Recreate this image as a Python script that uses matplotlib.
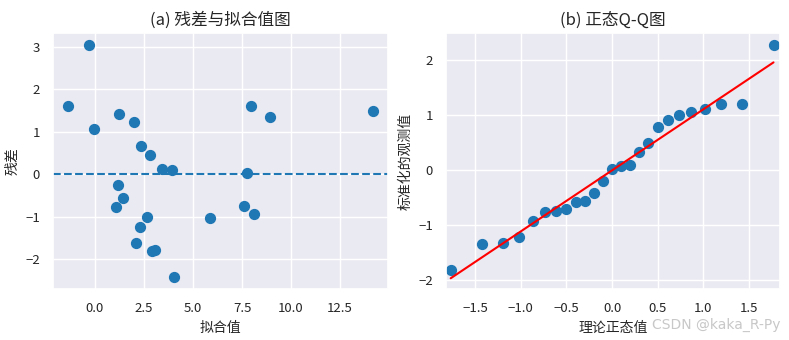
import matplotlib
matplotlib.use("Agg")
import matplotlib.pyplot as plt
import numpy as np
import seaborn as sns
from statistics import NormalDist

sns.set_theme(style="darkgrid")
plt.rcParams['font.family'] = ['Noto Sans CJK SC', 'DejaVu Sans']
plt.rcParams['axes.unicode_minus'] = True

# fitted values and residuals of the regression model
fitted = [-1.36, -0.31, -0.03, 1.24, 2.01, 2.36, 2.79, 3.42, 3.93, 7.94,
          8.91, 14.17, 7.76, 1.19, 1.44, 1.09, 2.67, 2.31, 2.11, 2.91,
          3.04, 4.03, 5.88, 7.62, 8.13]
residuals = [1.61, 3.05, 1.06, 1.41, 1.22, 0.66, 0.45, 0.13, 0.11, 1.61,
             1.36, 1.49, 0.03, -0.26, -0.55, -0.76, -0.99, -1.23, -1.62, -1.79,
             -1.77, -2.42, -1.02, -0.75, -0.94]

titles = ["(a) 残差与拟合值图", "(b) 正态Q-Q图"]

BLUE = "#1f77b4"

resid = np.asarray(residuals)
n = len(resid)
standardized = np.sort((resid - resid.mean()) / resid.std())
theoretical = np.array([NormalDist().inv_cdf(i / (n + 1)) for i in range(1, n + 1)])
slope, intercept = np.polyfit(theoretical, standardized, 1)

fig = plt.figure(figsize=(7.89, 3.4), dpi=100)
ax1 = fig.add_axes([0.0672, 0.15, 0.4246, 0.753])
ax2 = fig.add_axes([0.5653, 0.15, 0.4233, 0.753])

ax1.scatter(fitted, residuals, s=50, color=BLUE)
ax1.axhline(0, color=BLUE, linestyle="--", linewidth=1.5)
ax1.set_title(titles[0], fontsize=12)
ax1.set_xlabel("拟合值", fontsize=10)
ax1.set_ylabel("残差", fontsize=10)
ax1.tick_params(labelsize=9.5)

ax2.scatter(theoretical, standardized, s=50, color=BLUE)
ax2.plot(theoretical[[0, -1]], intercept + slope * theoretical[[0, -1]],
         color="red", linewidth=1.5)
ax2.set_xlim(-1.82, 1.84)
ax2.set_ylim(-2.16, 2.50)
ax2.set_title(titles[1], fontsize=12)
ax2.set_xlabel("理论正态值", fontsize=10)
ax2.set_ylabel("标准化的观测值", fontsize=10)
ax2.tick_params(labelsize=9.5)

fig.text(0.989, 0.025, "CSDN @kaka_R-Py", ha="right", va="bottom",
         fontsize=10, color="#c8c8c8", family=["DejaVu Sans"])

fig.savefig("out.png", dpi=100)
